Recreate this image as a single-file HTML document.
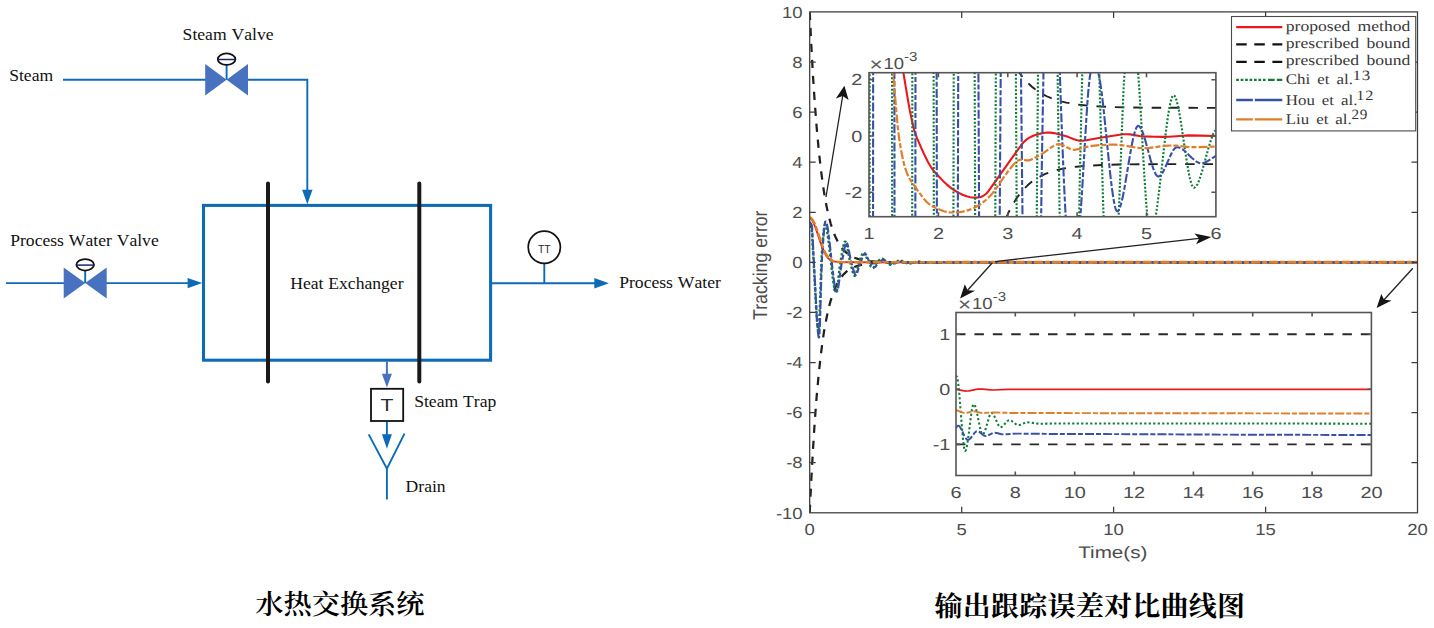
<!DOCTYPE html>
<html lang="zh"><head><meta charset="utf-8"><title>水热交换系统 / 输出跟踪误差对比曲线图</title>
<style>html,body{margin:0;padding:0;background:#fff}body{width:1434px;height:628px;overflow:hidden}svg{display:block}</style></head><body>
<svg width="1434" height="628" viewBox="0 0 1434 628">
<rect width="1434" height="628" fill="#fff"/>
<g id="diagram" fill="none" stroke-linecap="butt">
<path d="M63 79.8H206" stroke="#0D6AB7" stroke-width="1.9"/>
<path d="M247 79.8H307.3V192" stroke="#0D6AB7" stroke-width="1.9"/>
<path d="M307.3 204.2L302.1 189.8H312.5Z" fill="#0D6AB7"/>
<path d="M6 283.1H64" stroke="#0D6AB7" stroke-width="1.9"/>
<path d="M106 283.1H189" stroke="#0D6AB7" stroke-width="1.9"/>
<path d="M202.2 283.1L187.6 277.9V288.3Z" fill="#0D6AB7"/>
<rect x="203.5" y="205.4" width="287.1" height="154.8" stroke="#0D6AB7" stroke-width="3.05"/>
<path d="M268 183.5V381.5M419.3 183.5V381.5" stroke="#1a1a1a" stroke-width="4" stroke-linecap="round"/>
<path d="M491 283.2H596" stroke="#0D6AB7" stroke-width="1.9"/>
<path d="M608.9 283.2L594.3 278V288.4Z" fill="#0D6AB7"/>
<path d="M544.3 264V283.2" stroke="#0D6AB7" stroke-width="1.9"/>
<circle cx="544.3" cy="247.3" r="16.1" stroke="#111" stroke-width="1.7" fill="#fff"/>
<path d="M386.9 361V376" stroke="#4872BF" stroke-width="2"/>
<path d="M386.9 387.6L381.9 373.8H391.9Z" fill="#4872BF"/>
<rect x="371" y="388.8" width="32.2" height="32.2" stroke="#111" stroke-width="1.8" fill="#fff"/>
<path d="M386.9 422V436" stroke="#0D6AB7" stroke-width="1.9"/>
<path d="M386.9 448.7L381.9 434.2H391.9Z" fill="#0D6AB7"/>
<path d="M368.7 434.4L386.9 468.6L404.5 433.6M386.9 468V499.5" stroke="#0D6AB7" stroke-width="1.9"/>
<path d="M205.2 64.1L226.6 79.8L205.2 95.5ZM248.0 64.1L226.6 79.8L248.0 95.5Z" fill="#4872BF"/>
<path d="M226.6 79.8V64.2" stroke="#0D6AB7" stroke-width="1.9"/>
<ellipse cx="226.6" cy="59.2" rx="8.8" ry="5.75" stroke="#111" stroke-width="1.8" fill="#fff"/>
<path d="M218.0 59.5H235.2" stroke="#1a2468" stroke-width="1.5"/>
<path d="M63.7 267.6L85.2 283.1L63.7 298.6ZM106.7 267.6L85.2 283.1L106.7 298.6Z" fill="#4872BF"/>
<path d="M85.2 283.1V269.8" stroke="#0D6AB7" stroke-width="1.9"/>
<ellipse cx="85.2" cy="264.8" rx="8.8" ry="5.75" stroke="#111" stroke-width="1.8" fill="#fff"/>
<path d="M76.60000000000001 265.1H93.8" stroke="#1a2468" stroke-width="1.5"/>
</g>
<text transform="translate(182.6,40.4) scale(1.0,1)" font-family="'Liberation Serif','Noto Serif CJK SC',serif" font-size="17.6" text-anchor="start" fill="#111" font-weight="normal" style="font-kerning:none" word-spacing="0.5">Steam Valve</text>
<text transform="translate(9.2,81.4) scale(1.0,1)" font-family="'Liberation Serif','Noto Serif CJK SC',serif" font-size="17.6" text-anchor="start" fill="#111" font-weight="normal" style="font-kerning:none" word-spacing="0.5">Steam</text>
<text transform="translate(10.2,245.8) scale(1.0,1)" font-family="'Liberation Serif','Noto Serif CJK SC',serif" font-size="17.6" text-anchor="start" fill="#111" font-weight="normal" style="font-kerning:none" word-spacing="0.5">Process Water Valve</text>
<text transform="translate(290.2,288.8) scale(1.0,1)" font-family="'Liberation Serif','Noto Serif CJK SC',serif" font-size="17.6" text-anchor="start" fill="#111" font-weight="normal" style="font-kerning:none" word-spacing="0.5">Heat Exchanger</text>
<text transform="translate(619.2,288.3) scale(1.0,1)" font-family="'Liberation Serif','Noto Serif CJK SC',serif" font-size="17.6" text-anchor="start" fill="#111" font-weight="normal" style="font-kerning:none" word-spacing="0.5">Process Water</text>
<text transform="translate(414.2,406.8) scale(1.0,1)" font-family="'Liberation Serif','Noto Serif CJK SC',serif" font-size="17.6" text-anchor="start" fill="#111" font-weight="normal" style="font-kerning:none" word-spacing="0.5">Steam Trap</text>
<text transform="translate(405.6,491.9) scale(1.0,1)" font-family="'Liberation Serif','Noto Serif CJK SC',serif" font-size="17.6" text-anchor="start" fill="#111" font-weight="normal" style="font-kerning:none" word-spacing="0.5">Drain</text>
<text transform="translate(544.3,253.0) scale(1.0,1)" font-family="'Liberation Sans','Noto Sans CJK SC',sans-serif" font-size="10.4" text-anchor="middle" fill="#2a2a2a" font-weight="normal" >TT</text>
<text transform="translate(386.9,410.8) scale(1.28,1)" font-family="'Liberation Sans','Noto Sans CJK SC',sans-serif" font-size="16.6" text-anchor="middle" fill="#2a2a2a" font-weight="normal" >T</text>
<text transform="translate(339.9,613.6) scale(1.0,0.955)" font-family="'Liberation Serif','Noto Serif CJK SC',serif" font-size="28.2" text-anchor="middle" fill="#000" font-weight="600" >水热交换系统</text>
<g text-rendering="geometricPrecision">
<defs><clipPath id="cm"><rect x="809.7" y="11.9" width="607.8" height="500.9"/></clipPath><clipPath id="c1"><rect x="869.0" y="72.7" width="346.9000000000001" height="144.0"/></clipPath><clipPath id="c2"><rect x="956.0" y="312.5" width="415.4000000000001" height="163.0"/></clipPath></defs>
<g clip-path="url(#cm)" fill="none" stroke-linejoin="round">
<path d="M809.7 217.7L810.8 218.5L811.8 219.9L812.9 221.6L814.0 224.0L816.2 229.6L820.3 242.0L822.1 247.1L824.1 251.8L825.1 253.7L826.0 255.4L827.2 257.0L828.3 258.3L829.5 259.4L830.8 260.2L832.2 260.9L833.8 261.4L835.6 261.7L837.8 262.0L841.9 262.1L849.1 262.2L877.4 262.3L1417.5 262.3" stroke="#EC171D" stroke-width="1.8"/>
<path d="M809.7 11.9L811.3 45.0L813.0 76.3L814.8 103.0L816.7 127.8L818.7 149.5L820.8 168.9L823.1 186.0L824.3 193.9L825.5 200.9L826.8 207.5L828.1 213.5L829.5 219.1L830.8 224.0L832.3 228.6L833.8 232.9L835.4 236.8L837.1 240.3L838.8 243.5L840.7 246.4L842.7 249.0L844.7 251.2L847.0 253.2L849.3 254.9L851.9 256.4L854.6 257.7L857.9 258.9L861.5 259.8L865.6 260.6L870.2 261.2L875.5 261.6L881.6 261.9L889.1 262.1L898.6 262.2L941.3 262.3L1417.5 262.3" stroke="#202020" stroke-width="2.25" stroke-dasharray="8.2 7.8"/>
<path d="M809.7 512.8L811.3 479.5L813.0 449.3L814.7 422.2L816.6 397.2L818.6 375.3L820.7 355.8L822.9 339.0L824.1 331.1L825.4 324.0L826.6 317.7L827.9 311.6L829.2 306.0L830.6 300.9L832.1 296.3L833.6 291.9L835.2 288.0L836.8 284.4L838.6 281.2L840.4 278.4L842.4 275.8L844.4 273.6L846.6 271.5L849.0 269.8L851.6 268.3L854.3 267.0L857.6 265.8L861.2 264.9L865.2 264.1L869.8 263.5L875.0 263.1L881.2 262.8L898.1 262.5L941.3 262.4L1417.5 262.4" stroke="#202020" stroke-width="2.25" stroke-dasharray="8.2 7.8"/>
<path d="M809.7 226.0L810.1 226.1L810.5 226.5L811.3 227.8L811.6 228.6L811.8 230.4L812.2 236.1L813.0 251.0L816.5 314.0L817.1 321.3L817.6 326.9L818.1 330.3L818.4 331.0L818.6 331.2L818.7 330.7L819.0 328.4L819.4 319.5L821.0 271.9L821.6 257.1L822.7 241.5L823.5 232.0L824.2 226.7L824.6 225.2L824.8 224.9L824.9 224.8L825.1 224.9L825.4 225.2L826.0 226.8L826.7 229.2L827.3 232.5L828.8 243.4L832.0 271.4L833.3 281.9L834.1 286.6L834.8 289.7L835.5 291.7L835.8 292.2L836.1 292.4L836.2 292.4L836.4 292.2L836.7 291.3L837.3 288.1L837.9 283.3L839.9 265.5L842.2 252.1L843.1 247.4L843.8 244.2L844.5 242.3L844.9 241.8L845.2 241.6L845.5 241.7L845.9 242.2L846.3 243.2L846.7 244.9L847.5 248.5L849.7 260.2L852.5 271.3L853.1 273.3L853.6 274.7L854.2 275.6L854.6 275.9L854.9 275.8L855.2 275.4L855.9 273.8L856.6 271.5L858.6 263.7L861.2 256.5L862.0 254.7L862.6 253.6L863.2 252.8L863.8 252.6L864.1 252.6L864.4 252.9L865.0 253.9L865.8 255.7L867.9 261.2L870.1 265.3L870.9 266.6L871.6 267.4L872.2 267.9L872.7 268.1L873.3 267.9L873.9 267.3L874.6 266.3L876.7 262.9L879.0 260.4L880.5 259.0L881.1 258.7L881.7 258.6L882.4 258.7L883.1 259.1L886.0 262.0L888.7 263.9L889.9 264.6L891.0 264.9L891.7 264.8L892.4 264.4L895.0 262.6L898.1 260.9L899.1 260.5L899.9 260.3L900.5 260.4L901.2 260.6L904.0 262.1L906.4 263.0L907.9 263.4L909.2 263.6L910.5 263.4L913.3 262.5L915.8 261.9L917.3 261.6L918.5 261.5L919.7 261.7L922.5 262.3L924.7 262.6L927.9 262.9L935.2 262.1L937.7 262.1L943.7 262.5L946.2 262.5L954.7 262.2L963.2 262.4L973.0 262.3L982.7 262.4L1417.5 262.4" stroke="#0F7D38" stroke-width="2.4" stroke-dasharray="2.4 2.1"/>
<path d="M809.7 222.5L810.1 222.6L810.5 223.0L811.4 224.4L811.9 225.8L812.1 227.9L816.8 317.8L817.5 326.7L818.0 332.6L818.5 336.3L818.7 337.2L819.0 337.5L819.2 336.7L819.4 334.0L819.9 324.2L821.4 273.0L822.0 257.3L823.2 240.6L824.0 230.4L824.8 223.9L825.1 222.1L825.4 221.5L825.7 221.6L826.0 221.9L826.6 223.3L827.2 225.8L827.9 229.5L829.4 240.9L832.5 269.2L833.9 280.3L834.6 285.2L835.3 288.5L836.0 290.8L836.3 291.3L836.6 291.6L836.8 291.6L837.0 291.5L837.4 290.8L837.8 289.2L838.3 286.9L839.0 282.1L841.3 265.5L844.4 248.7L845.0 245.9L845.5 244.0L846.0 243.0L846.2 242.7L846.4 242.6L846.7 242.7L847.1 243.3L847.8 245.4L848.5 248.8L850.7 260.1L853.3 269.6L854.0 272.0L854.6 273.5L855.2 274.5L855.8 274.9L856.1 274.8L856.5 274.4L857.1 273.0L857.8 270.9L859.9 263.6L862.5 257.2L863.2 255.8L863.8 254.7L864.4 254.1L864.9 253.8L865.2 253.9L865.6 254.1L866.3 255.1L867.1 256.7L868.8 260.8L869.7 262.3L871.7 264.9L872.6 266.0L873.5 266.8L874.3 267.1L875.0 267.0L875.8 266.4L878.1 263.3L879.0 262.4L881.7 260.5L882.6 260.0L883.4 259.9L884.0 259.9L884.8 260.2L887.6 262.1L890.1 263.3L891.5 263.8L892.6 264.0L893.3 263.9L894.2 263.7L897.0 262.5L899.8 261.7L901.0 261.4L902.1 261.3L903.5 261.4L906.4 262.2L909.0 262.7L911.4 263.0L912.8 263.0L915.9 262.4L919.8 262.0L924.6 262.3L928.9 262.5L937.9 262.3L946.5 262.4" stroke="#3851A8" stroke-width="2.2" stroke-dasharray="9 2 5 2.1"/>
<path d="M809.7 217.3L811.0 218.0L812.2 219.3L813.4 221.2L814.7 223.8L816.9 229.6L820.9 241.5L822.5 246.1L824.1 250.3L825.8 253.7L827.6 256.5L828.5 257.7L829.4 258.6L830.4 259.4L831.4 260.1L832.4 260.7L833.6 261.1L835.8 261.6L838.5 261.9L842.3 262.1L848.7 262.2L872.3 262.3L946.5 262.3" stroke="#E07E2A" stroke-width="2.5" stroke-dasharray="9 2 5 2.1"/>
<path d="M946.5 262.3H1417.5" stroke="#3851A8" stroke-width="2.7" stroke-dasharray="9 2 5 2.1" stroke-dashoffset="-0.4"/>
<path d="M946.5 262.3H1417.5" stroke="#E07E2A" stroke-width="2.9" stroke-dasharray="9 2 5 2.1" stroke-dashoffset="3.1"/>
</g>
<g stroke="#3c3c3c" stroke-width="1.25" fill="none">
<rect x="809.7" y="11.9" width="607.8" height="500.9"/>
<path d="M961.7 512.8v-6M961.7 11.9v6M1113.6 512.8v-6M1113.6 11.9v6M1265.6 512.8v-6M1265.6 11.9v6M809.7 462.7h6M1417.5 462.7h-6M809.7 412.6h6M1417.5 412.6h-6M809.7 362.5h6M1417.5 362.5h-6M809.7 312.4h6M1417.5 312.4h-6M809.7 262.3h6M1417.5 262.3h-6M809.7 212.3h6M1417.5 212.3h-6M809.7 162.2h6M1417.5 162.2h-6M809.7 112.1h6M1417.5 112.1h-6M809.7 62.0h6M1417.5 62.0h-6"/>
</g>
<text transform="translate(809.7,534.7) scale(1.155,1)" font-family="'Liberation Sans','Noto Sans CJK SC',sans-serif" font-size="16" text-anchor="middle" fill="#4c4c4c" font-weight="normal" >0</text>
<text transform="translate(961.7,534.7) scale(1.155,1)" font-family="'Liberation Sans','Noto Sans CJK SC',sans-serif" font-size="16" text-anchor="middle" fill="#4c4c4c" font-weight="normal" >5</text>
<text transform="translate(1113.6,534.7) scale(1.155,1)" font-family="'Liberation Sans','Noto Sans CJK SC',sans-serif" font-size="16" text-anchor="middle" fill="#4c4c4c" font-weight="normal" >10</text>
<text transform="translate(1265.6,534.7) scale(1.155,1)" font-family="'Liberation Sans','Noto Sans CJK SC',sans-serif" font-size="16" text-anchor="middle" fill="#4c4c4c" font-weight="normal" >15</text>
<text transform="translate(1417.5,534.7) scale(1.155,1)" font-family="'Liberation Sans','Noto Sans CJK SC',sans-serif" font-size="16" text-anchor="middle" fill="#4c4c4c" font-weight="normal" >20</text>
<text transform="translate(802.6,518.5) scale(1.155,1)" font-family="'Liberation Sans','Noto Sans CJK SC',sans-serif" font-size="16" text-anchor="end" fill="#4c4c4c" font-weight="normal" >-10</text>
<text transform="translate(802.6,468.4) scale(1.155,1)" font-family="'Liberation Sans','Noto Sans CJK SC',sans-serif" font-size="16" text-anchor="end" fill="#4c4c4c" font-weight="normal" >-8</text>
<text transform="translate(802.6,418.3) scale(1.155,1)" font-family="'Liberation Sans','Noto Sans CJK SC',sans-serif" font-size="16" text-anchor="end" fill="#4c4c4c" font-weight="normal" >-6</text>
<text transform="translate(802.6,368.2) scale(1.155,1)" font-family="'Liberation Sans','Noto Sans CJK SC',sans-serif" font-size="16" text-anchor="end" fill="#4c4c4c" font-weight="normal" >-4</text>
<text transform="translate(802.6,318.1) scale(1.155,1)" font-family="'Liberation Sans','Noto Sans CJK SC',sans-serif" font-size="16" text-anchor="end" fill="#4c4c4c" font-weight="normal" >-2</text>
<text transform="translate(802.6,268.0) scale(1.155,1)" font-family="'Liberation Sans','Noto Sans CJK SC',sans-serif" font-size="16" text-anchor="end" fill="#4c4c4c" font-weight="normal" >0</text>
<text transform="translate(802.6,218.0) scale(1.155,1)" font-family="'Liberation Sans','Noto Sans CJK SC',sans-serif" font-size="16" text-anchor="end" fill="#4c4c4c" font-weight="normal" >2</text>
<text transform="translate(802.6,167.9) scale(1.155,1)" font-family="'Liberation Sans','Noto Sans CJK SC',sans-serif" font-size="16" text-anchor="end" fill="#4c4c4c" font-weight="normal" >4</text>
<text transform="translate(802.6,117.8) scale(1.155,1)" font-family="'Liberation Sans','Noto Sans CJK SC',sans-serif" font-size="16" text-anchor="end" fill="#4c4c4c" font-weight="normal" >6</text>
<text transform="translate(802.6,67.7) scale(1.155,1)" font-family="'Liberation Sans','Noto Sans CJK SC',sans-serif" font-size="16" text-anchor="end" fill="#4c4c4c" font-weight="normal" >8</text>
<text transform="translate(802.6,17.6) scale(1.155,1)" font-family="'Liberation Sans','Noto Sans CJK SC',sans-serif" font-size="16" text-anchor="end" fill="#4c4c4c" font-weight="normal" >10</text>
<text transform="translate(1112.8,558.4) scale(1.237,1)" font-family="'Liberation Sans','Noto Sans CJK SC',sans-serif" font-size="16.7" text-anchor="middle" fill="#4c4c4c" font-weight="normal" >Time(s)</text>
<text transform="translate(766.6,265.2) scale(1.13,1) rotate(-90)" font-family="'Liberation Sans','Noto Sans CJK SC',sans-serif" font-size="17.7" text-anchor="middle" fill="#4c4c4c">Tracking error</text>
<rect x="869.0" y="72.7" width="346.9000000000001" height="144.0" fill="#fff" stroke="none"/>
<g clip-path="url(#c1)" fill="none" stroke-linejoin="round">
<path d="M869.0 -88.8L890.3 -88.8L892.4 -47.9L894.4 -15.3L895.7 2.1L897.0 18.4L898.4 32.9L899.7 45.7L901.1 57.4L902.5 67.4L907.8 99.2L909.8 110.4L911.6 119.1L913.2 126.2L914.7 131.7L915.7 134.7L916.7 137.3L920.7 146.6L923.9 153.8L926.1 158.2L928.0 162.0L929.9 165.3L931.7 168.2L933.3 170.4L934.9 172.2L939.8 177.5L943.5 181.4L946.4 184.1L949.0 186.4L951.5 188.3L953.8 190.0L958.3 192.6L962.5 194.7L966.6 196.2L968.5 196.8L970.4 197.2L972.5 197.5L974.6 197.6L976.6 197.6L978.2 197.5L979.8 197.2L981.2 196.8L982.6 196.2L984.0 195.4L985.2 194.5L986.4 193.4L987.7 192.1L988.8 190.7L1016.3 151.9L1021.3 145.0L1023.4 142.5L1025.0 140.9L1026.8 139.4L1028.5 138.2L1030.5 137.1L1032.6 136.0L1035.4 135.0L1038.0 134.2L1040.6 133.6L1044.7 132.8L1047.3 132.5L1050.5 132.6L1053.9 133.1L1057.9 134.0L1066.2 136.2L1068.6 137.1L1074.0 139.3L1076.4 140.1L1078.6 140.6L1080.6 140.8L1083.3 140.6L1086.5 140.2L1098.7 138.0L1109.9 136.2L1119.7 134.7L1123.0 134.3L1124.8 134.2L1127.3 134.2L1130.2 134.4L1139.6 136.0L1143.0 136.4L1154.9 136.8L1162.4 136.9L1168.7 136.8L1172.9 136.5L1183.2 135.7L1188.3 135.4L1200.2 135.6L1215.9 136.0" stroke="#EC171D" stroke-width="2.1"/>
<path d="M1019.4 72.8L1021.7 75.9L1024.3 79.1L1026.6 81.6L1029.3 84.3L1031.9 86.7L1034.8 89.0L1037.8 91.2L1040.7 93.0L1044.0 94.9L1047.3 96.5L1050.6 97.9L1054.2 99.3L1058.1 100.5L1062.1 101.6L1066.3 102.6L1070.6 103.4L1079.4 104.8L1089.3 105.8L1100.8 106.6L1114.5 107.1L1130.3 107.5L1150.0 107.7L1215.9 107.9" stroke="#202020" stroke-width="1.9" stroke-dasharray="9.5 8.9" stroke-dashoffset="4.5"/>
<path d="M1006.6 216.6L1009.1 211.4L1011.5 206.6L1014.0 202.4L1016.4 198.5L1018.9 195.1L1021.7 191.5L1024.5 188.4L1027.6 185.3L1030.8 182.6L1033.9 180.3L1037.4 178.0L1040.9 176.1L1044.7 174.2L1048.9 172.5L1053.1 171.1L1057.7 169.9L1061.8 168.9L1066.4 168.1L1071.3 167.3L1076.5 166.7L1082.1 166.1L1088.0 165.7L1102.0 165.0L1118.1 164.5L1139.0 164.3L1167.7 164.1L1215.9 164.1" stroke="#202020" stroke-width="1.9" stroke-dasharray="9.5 8.9" stroke-dashoffset="2.5"/>
<path d="M869.00 360.80L869.52 360.80L869.75 -88.80L891.96 -88.80L892.25 360.80L912.08 360.80L912.49 -88.80L933.42 -88.80L934.05 360.80L953.14 360.80L954.06 -88.80L974.19 -88.80L975.57 360.80L994.66 360.80L994.71 360.31L996.45 -88.80L1015.01 -88.80L1015.07 -88.62L1015.94 86.60L1017.56 360.80L1035.71 360.80L1037.04 181.58L1039.53 -88.80L1055.89 -88.80L1055.95 -88.66L1056.99 16.97L1057.92 96.55L1061.79 360.80L1076.77 360.80L1078.68 240.59L1079.95 171.28L1086.02 -88.80L1095.56 -88.80L1098.69 47.46L1099.90 96.54L1100.65 122.92L1102.33 175.45L1105.28 275.73L1106.55 313.33L1107.65 338.88L1108.17 348.01L1108.69 354.88L1109.15 358.87L1109.38 360.07L1109.62 360.70L1109.73 360.80L1109.85 360.77L1110.08 360.44L1110.60 358.50L1111.12 354.98L1111.64 350.03L1112.80 334.61L1114.07 312.15L1119.16 203.81L1122.68 109.71L1123.44 92.16L1124.13 78.83L1126.33 48.44L1128.00 28.50L1128.76 21.29L1129.45 15.93L1130.09 12.33L1130.72 10.15L1130.95 9.75L1131.18 9.56L1131.42 9.61L1131.65 9.91L1132.11 11.22L1132.57 13.40L1133.61 20.99L1134.77 32.74L1138.41 77.04L1139.40 90.58L1140.84 114.06L1144.31 175.38L1146.10 202.01L1147.20 214.14L1149.11 229.90L1150.15 236.62L1150.61 238.60L1151.08 239.75L1151.31 239.96L1151.48 239.94L1151.71 239.70L1151.94 239.22L1152.41 237.62L1152.87 235.34L1157.32 205.24L1159.75 185.79L1165.36 136.36L1166.75 125.27L1168.02 116.16L1169.23 108.66L1170.39 102.84L1171.49 98.70L1172.01 97.27L1172.53 96.21L1173.17 95.44L1173.46 95.28L1173.74 95.26L1174.38 95.61L1175.02 96.46L1175.65 97.79L1176.35 99.74L1177.73 105.02L1179.06 111.55L1180.57 120.25L1186.24 157.97L1188.61 172.03L1189.88 178.19L1191.09 182.85L1192.19 185.83L1192.77 186.86L1193.29 187.45L1193.81 187.70L1194.50 187.59L1195.20 187.19L1195.95 186.45L1196.64 185.49L1197.40 184.20L1198.96 180.72L1200.46 176.53L1202.08 171.31L1208.27 148.74L1210.81 140.34L1212.20 136.48L1213.47 133.55L1214.69 131.40L1215.32 130.56L1215.90 129.99" stroke="#0F7D38" stroke-width="2.15" stroke-dasharray="2 1.8"/>
<path d="M869.00 360.80L872.99 360.80L873.22 -88.80L894.27 -88.80L894.62 360.80L915.20 360.80L915.67 -88.80L936.37 -88.80L937.12 360.80L957.42 360.80L958.69 -88.80L977.71 -88.80L979.74 360.80L998.88 360.80L999.92 185.69L1001.88 -88.80L1019.64 -88.80L1021.14 88.63L1024.03 360.80L1039.53 360.80L1040.86 238.92L1041.84 164.14L1046.35 -88.80L1056.13 -88.80L1056.18 -88.03L1057.98 1.52L1059.25 54.87L1060.98 106.86L1063.07 161.47L1064.11 185.47L1065.15 206.74L1069.25 279.34L1070.24 293.51L1071.10 303.38L1071.91 309.76L1072.32 311.74L1072.72 312.83L1072.95 313.03L1073.13 312.95L1073.47 312.21L1073.82 310.73L1074.23 308.13L1075.04 300.48L1075.90 289.35L1076.94 273.21L1079.49 230.14L1082.03 192.10L1086.20 121.04L1087.29 104.42L1088.28 91.63L1089.32 80.93L1089.84 76.88L1090.30 74.12L1091.28 70.16L1092.33 66.61L1093.13 64.49L1093.89 63.26L1094.23 63.00L1094.52 62.94L1094.81 63.06L1095.10 63.35L1095.74 64.53L1096.43 66.45L1098.80 75.01L1099.61 78.99L1100.42 83.82L1101.87 94.26L1103.43 107.61L1109.38 166.16L1110.71 178.28L1111.87 187.81L1113.26 197.58L1114.53 204.55L1115.17 207.20L1115.74 209.07L1116.32 210.40L1116.90 211.15L1117.42 211.30L1118.00 211.04L1118.58 210.40L1119.16 209.42L1119.73 208.12L1120.37 206.34L1121.70 201.57L1123.03 195.59L1124.53 187.72L1130.26 153.51L1131.59 146.12L1132.75 140.29L1134.08 134.54L1135.35 130.21L1135.98 128.55L1136.56 127.37L1137.14 126.51L1137.72 126.01L1138.18 125.88L1138.82 126.03L1139.40 126.40L1139.97 127.00L1141.19 128.91L1142.46 131.74L1143.73 135.27L1145.18 139.94L1150.67 160.11L1153.04 167.87L1154.31 171.26L1155.53 173.82L1156.69 175.52L1157.26 176.06L1157.78 176.36L1158.25 176.46L1158.83 176.40L1159.92 175.85L1161.08 174.74L1162.30 173.07L1163.51 170.97L1164.84 168.30L1169.87 156.82L1172.01 152.44L1173.17 150.48L1174.27 148.98L1175.31 147.95L1176.29 147.38L1176.81 147.25L1177.39 147.25L1179.01 147.54L1180.57 148.15L1182.25 149.13L1183.81 150.27L1185.54 151.75L1191.96 157.94L1194.62 160.26L1196.07 161.32L1197.40 162.13L1198.67 162.72L1199.94 163.11L1201.21 163.26L1202.54 163.16L1203.99 162.81L1205.49 162.23L1208.04 160.86L1213.47 157.30L1215.90 155.91" stroke="#3851A8" stroke-width="2.1" stroke-dasharray="9 2 5 2.1"/>
<path d="M869.0 -88.8L882.6 -88.8L884.4 -52.0L885.9 -25.5L889.2 21.5L892.2 61.1L896.1 108.7L897.8 127.3L898.6 134.3L899.7 142.0L901.0 149.7L902.3 156.3L903.9 163.6L905.7 169.7L907.6 174.8L908.7 177.0L909.8 179.2L912.3 182.9L919.4 192.9L922.7 197.3L924.7 199.8L926.7 202.0L928.6 203.7L930.3 205.0L931.7 205.9L936.0 208.0L939.0 209.3L941.7 210.4L944.0 211.2L946.1 211.8L948.2 212.2L950.2 212.4L953.4 212.5L956.7 212.4L959.7 212.1L962.7 211.6L965.6 210.9L968.5 210.1L971.2 209.1L974.0 207.9L976.2 206.8L978.3 205.5L980.5 204.2L982.5 202.7L986.4 199.5L990.3 195.7L993.0 192.6L995.6 189.1L1004.8 175.8L1008.2 171.2L1011.3 167.3L1013.4 164.8L1015.3 162.8L1017.1 161.2L1018.0 160.6L1018.9 160.2L1019.8 159.9L1020.7 159.7L1022.6 159.7L1026.2 160.3L1027.7 160.4L1029.2 160.3L1030.5 159.9L1035.4 157.6L1040.6 154.8L1043.6 152.9L1049.8 148.4L1052.4 146.6L1055.4 145.0L1056.4 144.5L1057.3 144.3L1058.3 144.2L1059.3 144.2L1060.3 144.3L1061.5 144.7L1063.8 145.6L1068.3 148.0L1070.2 148.9L1072.2 149.6L1074.0 149.8L1075.5 149.7L1078.3 149.2L1088.0 146.6L1092.2 145.8L1100.8 145.0L1108.9 144.7L1114.9 144.7L1119.4 144.9L1123.9 145.5L1135.5 147.5L1138.9 147.9L1142.0 148.1L1145.4 148.1L1149.1 147.8L1164.3 146.0L1167.8 145.7L1170.9 145.5L1173.6 145.6L1176.5 145.7L1187.6 146.9L1192.2 147.2L1198.0 147.2L1210.8 146.7L1215.9 146.7" stroke="#E07E2A" stroke-width="2.2" stroke-dasharray="9 2 5 2.1"/>
</g>
<g stroke="#555" stroke-width="1.6" fill="none">
<rect x="869.0" y="72.7" width="346.9000000000001" height="144.0"/>
<path d="M938.4 216.7v-4.5M938.4 72.7v4.5M1007.8 216.7v-4.5M1007.8 72.7v4.5M1077.1 216.7v-4.5M1077.1 72.7v4.5M1146.5 216.7v-4.5M1146.5 72.7v4.5M869.0 192.2h4.5M1215.9 192.2h-4.5M869.0 136.0h4.5M1215.9 136.0h-4.5M869.0 79.8h4.5M1215.9 79.8h-4.5"/>
</g>
<text transform="translate(869.0,238.8) scale(1.24,1)" font-family="'Liberation Sans','Noto Sans CJK SC',sans-serif" font-size="16" text-anchor="middle" fill="#4c4c4c" font-weight="normal" >1</text>
<text transform="translate(938.4,238.8) scale(1.24,1)" font-family="'Liberation Sans','Noto Sans CJK SC',sans-serif" font-size="16" text-anchor="middle" fill="#4c4c4c" font-weight="normal" >2</text>
<text transform="translate(1007.8,238.8) scale(1.24,1)" font-family="'Liberation Sans','Noto Sans CJK SC',sans-serif" font-size="16" text-anchor="middle" fill="#4c4c4c" font-weight="normal" >3</text>
<text transform="translate(1077.1,238.8) scale(1.24,1)" font-family="'Liberation Sans','Noto Sans CJK SC',sans-serif" font-size="16" text-anchor="middle" fill="#4c4c4c" font-weight="normal" >4</text>
<text transform="translate(1146.5,238.8) scale(1.24,1)" font-family="'Liberation Sans','Noto Sans CJK SC',sans-serif" font-size="16" text-anchor="middle" fill="#4c4c4c" font-weight="normal" >5</text>
<text transform="translate(1215.9,238.8) scale(1.24,1)" font-family="'Liberation Sans','Noto Sans CJK SC',sans-serif" font-size="16" text-anchor="middle" fill="#4c4c4c" font-weight="normal" >6</text>
<text transform="translate(862.4,197.8) scale(1.24,1)" font-family="'Liberation Sans','Noto Sans CJK SC',sans-serif" font-size="16" text-anchor="end" fill="#4c4c4c" font-weight="normal" >-2</text>
<text transform="translate(862.4,141.6) scale(1.24,1)" font-family="'Liberation Sans','Noto Sans CJK SC',sans-serif" font-size="16" text-anchor="end" fill="#4c4c4c" font-weight="normal" >0</text>
<text transform="translate(862.4,85.4) scale(1.24,1)" font-family="'Liberation Sans','Noto Sans CJK SC',sans-serif" font-size="16" text-anchor="end" fill="#4c4c4c" font-weight="normal" >2</text>
<text transform="translate(869.4,68.8) scale(1.155,1)" font-family="'Liberation Sans','Noto Sans CJK SC',sans-serif" font-size="16" fill="#4c4c4c"><tspan font-size="19.5" dy="2.6" fill="#5c5c5c">×</tspan><tspan dy="-2.6" dx="0.8">10</tspan><tspan dy="-7.6" font-size="13">-3</tspan></text>
<rect x="956.0" y="312.5" width="415.4000000000001" height="163.0" fill="#fff" stroke="none"/>
<g clip-path="url(#c2)" fill="none" stroke-linejoin="round">
<path d="M956.0 334.2H1371.4M956.0 444.4H1371.4" stroke="#2a2a2a" stroke-width="1.85" stroke-dasharray="9.5 8.9" stroke-dashoffset="0"/>
<path d="M956.0 389.3L963.1 390.7L964.9 391.0L966.1 391.0L969.1 390.8L976.2 389.3L978.0 389.1L979.5 389.0L983.0 389.2L990.4 389.8L993.7 390.0L1007.7 389.4L1012.1 389.3L1371.4 389.3" stroke="#EC171D" stroke-width="1.75"/>
<path d="M956.0 377.5L956.3 376.7L956.6 376.4L956.9 376.6L957.2 377.4L957.5 378.6L958.1 382.3L959.3 393.5L961.9 427.0L963.1 440.1L963.7 445.1L964.3 448.8L964.6 450.0L964.9 450.7L965.2 451.0L965.5 450.8L965.8 450.3L966.1 449.5L966.7 447.2L967.3 444.0L968.5 435.8L970.8 416.9L972.0 409.3L972.9 405.5L973.2 404.8L973.5 404.3L973.8 404.2L974.1 404.3L974.7 405.0L975.3 406.4L975.9 408.4L977.1 413.5L979.8 426.7L980.9 431.4L981.8 433.6L982.4 434.4L982.7 434.4L983.0 434.4L983.6 433.8L984.2 432.8L984.8 431.4L986.0 427.8L988.7 418.5L989.8 415.1L990.7 413.5L991.3 413.0L991.6 413.0L991.9 413.0L992.5 413.4L993.1 414.1L993.7 415.0L994.9 417.4L997.6 423.6L998.8 425.8L999.6 426.9L1000.2 427.2L1000.5 427.3L1001.4 427.1L1002.6 426.3L1003.8 425.1L1006.5 421.9L1007.7 420.8L1008.6 420.3L1009.4 420.1L1010.3 420.3L1011.5 420.8L1012.7 421.7L1015.4 423.8L1016.6 424.6L1017.5 425.0L1018.4 425.1L1019.2 425.0L1020.4 424.7L1025.2 422.7L1026.4 422.4L1027.3 422.3L1030.2 422.6L1036.5 423.5L1039.1 423.7L1073.3 423.4L1193.2 423.4L1371.4 423.7" stroke="#0F7D38" stroke-width="2.05" stroke-dasharray="2.2 2.3"/>
<path d="M956.0 428.3L956.9 426.6L957.5 425.9L957.8 425.7L958.4 425.7L959.3 426.2L960.2 427.3L961.0 428.8L964.3 435.7L965.5 437.8L966.1 438.7L966.7 439.4L967.3 439.8L967.9 439.9L968.5 439.8L969.1 439.6L970.3 438.6L971.4 437.1L974.1 433.5L975.3 432.2L976.5 431.3L977.4 431.1L978.3 431.3L979.5 431.9L982.7 434.7L983.9 435.5L984.8 435.9L985.7 436.1L986.6 436.0L987.8 435.6L991.6 433.6L992.8 433.1L993.7 432.9L994.6 432.8L996.7 433.0L1001.7 434.3L1003.5 434.4L1006.5 434.3L1013.0 433.7L1016.3 433.6L1048.3 433.9L1139.8 434.2L1240.2 434.7L1371.4 435.0" stroke="#3851A8" stroke-width="1.95" stroke-dasharray="9 2 5 2.1"/>
<path d="M956.0 410.2L958.1 410.7L962.8 412.6L964.0 412.9L965.2 413.0L967.3 412.7L971.7 411.5L973.5 411.3L975.6 411.6L980.6 412.8L982.7 413.0L991.3 412.5L994.0 412.4L1009.4 412.9L1015.4 413.0L1122.6 413.2L1371.4 413.5" stroke="#E07E2A" stroke-width="1.95" stroke-dasharray="9 2 5 2.1"/>
</g>
<g stroke="#555" stroke-width="1.6" fill="none">
<rect x="956.0" y="312.5" width="415.4000000000001" height="163.0"/>
<path d="M1015.3 475.5v-4M1015.3 312.5v4M1074.7 475.5v-4M1074.7 312.5v4M1134.0 475.5v-4M1134.0 312.5v4M1193.4 475.5v-4M1193.4 312.5v4M1252.7 475.5v-4M1252.7 312.5v4M1312.1 475.5v-4M1312.1 312.5v4M956.0 444.4h4M1371.4 444.4h-4M956.0 389.3h4M1371.4 389.3h-4M956.0 334.2h4M1371.4 334.2h-4"/>
</g>
<text transform="translate(956.0,497.8) scale(1.24,1)" font-family="'Liberation Sans','Noto Sans CJK SC',sans-serif" font-size="16" text-anchor="middle" fill="#4c4c4c" font-weight="normal" >6</text>
<text transform="translate(1015.3,497.8) scale(1.24,1)" font-family="'Liberation Sans','Noto Sans CJK SC',sans-serif" font-size="16" text-anchor="middle" fill="#4c4c4c" font-weight="normal" >8</text>
<text transform="translate(1074.7,497.8) scale(1.24,1)" font-family="'Liberation Sans','Noto Sans CJK SC',sans-serif" font-size="16" text-anchor="middle" fill="#4c4c4c" font-weight="normal" >10</text>
<text transform="translate(1134.0,497.8) scale(1.24,1)" font-family="'Liberation Sans','Noto Sans CJK SC',sans-serif" font-size="16" text-anchor="middle" fill="#4c4c4c" font-weight="normal" >12</text>
<text transform="translate(1193.4,497.8) scale(1.24,1)" font-family="'Liberation Sans','Noto Sans CJK SC',sans-serif" font-size="16" text-anchor="middle" fill="#4c4c4c" font-weight="normal" >14</text>
<text transform="translate(1252.7,497.8) scale(1.24,1)" font-family="'Liberation Sans','Noto Sans CJK SC',sans-serif" font-size="16" text-anchor="middle" fill="#4c4c4c" font-weight="normal" >16</text>
<text transform="translate(1312.1,497.8) scale(1.24,1)" font-family="'Liberation Sans','Noto Sans CJK SC',sans-serif" font-size="16" text-anchor="middle" fill="#4c4c4c" font-weight="normal" >18</text>
<text transform="translate(1371.4,497.8) scale(1.24,1)" font-family="'Liberation Sans','Noto Sans CJK SC',sans-serif" font-size="16" text-anchor="middle" fill="#4c4c4c" font-weight="normal" >20</text>
<text transform="translate(950.4,450.0) scale(1.24,1)" font-family="'Liberation Sans','Noto Sans CJK SC',sans-serif" font-size="16" text-anchor="end" fill="#4c4c4c" font-weight="normal" >-1</text>
<text transform="translate(950.4,394.9) scale(1.24,1)" font-family="'Liberation Sans','Noto Sans CJK SC',sans-serif" font-size="16" text-anchor="end" fill="#4c4c4c" font-weight="normal" >0</text>
<text transform="translate(950.4,339.9) scale(1.24,1)" font-family="'Liberation Sans','Noto Sans CJK SC',sans-serif" font-size="16" text-anchor="end" fill="#4c4c4c" font-weight="normal" >1</text>
<text transform="translate(958.0,308.7) scale(1.155,1)" font-family="'Liberation Sans','Noto Sans CJK SC',sans-serif" font-size="16" fill="#4c4c4c"><tspan font-size="19.5" dy="2.6" fill="#5c5c5c">×</tspan><tspan dy="-2.6" dx="0.8">10</tspan><tspan dy="-7.6" font-size="13">-3</tspan></text>
<path d="M826.0 197.0L842.7 96.0" stroke="#222" stroke-width="1.3" fill="none"/>
<path d="M844.4 85.8L848.6 100.0L842.7 96.0L835.8 98.5Z" fill="#151515"/>
<path d="M995.0 261.6L1199.1 238.4" stroke="#222" stroke-width="1.3" fill="none"/>
<path d="M1211.4 237.0L1196.1 244.2L1199.1 238.4L1194.4 233.5Z" fill="#151515"/>
<path d="M992.4 262.8L967.6 290.2" stroke="#222" stroke-width="1.3" fill="none"/>
<path d="M960.1 298.4L964.8 284.3L967.6 290.2L975.1 290.8Z" fill="#151515"/>
<path d="M1412.8 268.2L1384.1 299.8" stroke="#222" stroke-width="1.3" fill="none"/>
<path d="M1376.6 308.0L1381.3 293.9L1384.1 299.8L1391.6 300.4Z" fill="#151515"/>
<rect x="1231.5" y="16.5" width="184.20000000000005" height="114.4" fill="#fff" stroke="#4a4a4a" stroke-width="1.1"/>
<path d="M1236.2 27.2H1282.3" stroke="#EC171D" stroke-width="2.3"/>
<path d="M1236.2 44.3H1282.3" stroke="#111" stroke-width="2.3" stroke-dasharray="10.5 7.6"/>
<path d="M1236.2 61.9H1282.3" stroke="#111" stroke-width="2.3" stroke-dasharray="10.5 7.6"/>
<path d="M1236.2 79.9H1267.4" stroke="#0F7D38" stroke-width="2.2" stroke-dasharray="2.7 1.75"/>
<path d="M1268 79.9H1274.6M1276.8 79.9H1282.3" stroke="#0F7D38" stroke-width="2.2"/>
<path d="M1236.2 100.0H1282.3" stroke="#3851A8" stroke-width="2.3" stroke-dasharray="16.7 1.9 40 0"/>
<path d="M1236.2 119.4H1282.3" stroke="#E07E2A" stroke-width="2.3" stroke-dasharray="16.7 1.9 40 0"/>
<text x="1285.8" y="30.5" font-family="'Liberation Serif','Noto Serif CJK SC',serif" font-size="14.8" word-spacing="2.4" fill="#383838" textLength="124.6" lengthAdjust="spacingAndGlyphs">proposed method</text>
<text x="1285.8" y="48.0" font-family="'Liberation Serif','Noto Serif CJK SC',serif" font-size="14.8" word-spacing="2.4" fill="#383838" textLength="124.6" lengthAdjust="spacingAndGlyphs">prescribed bound</text>
<text x="1285.8" y="65.2" font-family="'Liberation Serif','Noto Serif CJK SC',serif" font-size="14.8" word-spacing="2.4" fill="#383838" textLength="124.6" lengthAdjust="spacingAndGlyphs">prescribed bound</text>
<text x="1285.8" y="84.4" font-family="'Liberation Serif','Noto Serif CJK SC',serif" font-size="14.8" word-spacing="2.4" fill="#383838" textLength="67.2" lengthAdjust="spacingAndGlyphs">Chi et al.</text>
<text transform="translate(1352.4,79.7) scale(1.2,1)" font-family="'Liberation Serif','Noto Serif CJK SC',serif" font-size="14.2" letter-spacing="0.6" fill="#383838">13</text>
<text x="1285.8" y="104.5" font-family="'Liberation Serif','Noto Serif CJK SC',serif" font-size="14.8" word-spacing="2.4" fill="#383838" textLength="71.6" lengthAdjust="spacingAndGlyphs">Hou et al.</text>
<text transform="translate(1356.3,99.8) scale(1.15,1)" font-family="'Liberation Serif','Noto Serif CJK SC',serif" font-size="14.2" letter-spacing="0.6" fill="#383838">12</text>
<text x="1285.8" y="124.0" font-family="'Liberation Serif','Noto Serif CJK SC',serif" font-size="14.8" word-spacing="2.4" fill="#383838" textLength="66" lengthAdjust="spacingAndGlyphs">Liu et al.</text>
<text transform="translate(1351.5,119.3) scale(1.07,1)" font-family="'Liberation Serif','Noto Serif CJK SC',serif" font-size="14.2" letter-spacing="0.6" fill="#383838">29</text>
<text transform="translate(1089.9,615.8) scale(1.0,1)" font-family="'Liberation Serif','Noto Serif CJK SC',serif" font-size="28" text-anchor="middle" fill="#000" font-weight="bold" letter-spacing="0.25">输出跟踪误差对比曲线图</text>
</g>
</svg></body></html>
